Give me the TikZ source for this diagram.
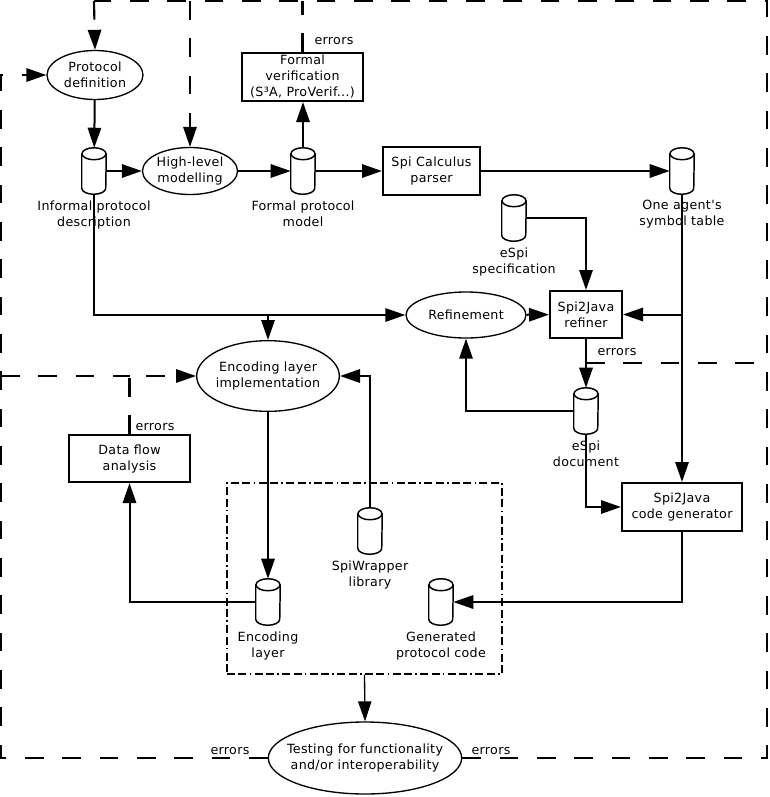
\documentclass[tikz,border=0pt]{standalone}
\usepackage{fontspec}
\setmainfont{DejaVu Sans}[LetterSpace=2.5, Ligatures=TeXOff]
\usetikzlibrary{shapes.geometric,arrows.meta,calc}
\newcommand{\drawcyl}[1]{%
  \draw[line width=1.1pt, fill=white] ($(#1.north west)+(0,-4.5pt)$) -- ($(#1.south west)+(0,4.5pt)$)
     arc[start angle=180, end angle=360, x radius=9pt, y radius=4.5pt]
     -- ($(#1.north east)+(0,-4.5pt)$);
  \draw[line width=1.1pt, fill=white] ($(#1.north)+(0,-4.5pt)$) ellipse[x radius=9pt, y radius=4.5pt];
}
\begin{document}
\begin{tikzpicture}[x=0.75pt,y=-0.75pt,
  txt/.style={font=\fontsize{9.5}{12}\selectfont, align=center, inner sep=0pt},
  ell/.style={draw, ellipse, inner sep=0pt, line width=1pt, fill=white},
  box/.style={draw, rectangle, inner sep=0pt, line width=1.5pt, txt, fill=white},
  cyl/.style={rectangle, minimum width=18pt, minimum height=34.5pt, inner sep=0pt},
  clab/.style={label={[txt,label distance=4.5pt]below:{#1}}},
  elab/.style={label={[txt]center:{#1}}},
  conn/.style={line width=1.5pt, -{Triangle[length=15pt,width=10pt]}},
  dsh/.style={line width=1.6pt, dash pattern=on 14pt off 14pt},
  dsharr/.style={dsh, -{Triangle[length=15pt,width=10pt]}},
  dashdot/.style={line width=1.1pt, dash pattern=on 6pt off 2.5pt on 6pt off 2.5pt on 1.2pt off 2.5pt}
]
\useasboundingbox (0,0) rectangle (770,797);

% nodes
\node[ell, minimum width=72pt, minimum height=36.75pt, elab={Protocol\\definition}] (pd) at (95,75) {};
\node[ell, minimum width=71.25pt, minimum height=35.25pt, elab={High-level\\modelling}] (hlm) at (190,171) {};
\node[ell, minimum width=90pt, minimum height=34.5pt, elab={Refinement}] (ref) at (466,315) {};
\node[ell, minimum width=107pt, minimum height=53pt, elab={Encoding layer\\implementation}] (eli) at (268,376) {};
\node[ell, minimum width=145pt, minimum height=54pt, elab={Testing for functionality\\and/or interoperability}] (test) at (365,758) {};

\node[box, minimum width=90.75pt, minimum height=36pt] (fv) at (302.5,77) {Formal\\verification\\(S³A, ProVerif...)};
\node[box, minimum width=72.75pt, minimum height=36pt] (parser) at (431.5,171) {Spi Calculus\\parser};
\node[box, minimum width=54pt, minimum height=35.25pt] (refiner) at (586,314.5) {Spi2Java\\refiner};
\node[box, minimum width=90.75pt, minimum height=35.25pt] (dfa) at (129.5,458.5) {Data flow\\analysis};
\node[box, minimum width=90pt, minimum height=36pt] (gen) at (682,507) {Spi2Java\\code generator};

\node[draw, dashdot, minimum width=206.25pt, minimum height=143.25pt, inner sep=0pt] (lib) at (364.5,578.5) {};

\node[cyl, clab={Informal protocol\\description}] (inf) at (94,171) {};
\node[cyl, clab={Formal protocol\\model}] (fpm) at (303,171) {};
\node[cyl, clab={One agent's\\symbol table}] (sym) at (682,171) {};
\node[cyl, clab={eSpi\\specification}] (espec) at (514,218) {};
\node[cyl, clab={eSpi\\document}] (edoc) at (586,411) {};
\node[cyl, clab={SpiWrapper\\library}] (swl) at (370,531) {};
\node[cyl, clab={Encoding\\layer}] (enc) at (268,602) {};
\node[cyl, clab={Generated\\protocol code}] (gpc) at (441,602) {};
\drawcyl{inf}\drawcyl{fpm}\drawcyl{sym}\drawcyl{espec}
\drawcyl{edoc}\drawcyl{swl}\drawcyl{enc}\drawcyl{gpc}

% errors labels
\node[txt] (e1) at (334,41) {errors};
\node[txt] (e2) at (617,352) {errors};
\node[txt] (e3) at (155,427) {errors};
\node[txt] (e4) at (230,751) {errors};
\node[txt] (e5) at (491,751) {errors};

% coordinates
\coordinate (tl) at (94,1);
\coordinate (tm) at (190,1);
\coordinate (tr) at (767,1);
\coordinate (br) at (767,758);
\coordinate (bl) at (1,758);
\coordinate (lm) at (1,75);
\coordinate (ll) at (1,376);
\coordinate (re) at (586,363);
\coordinate (j1) at (94,315);
\coordinate (j2) at (268,315);

% solid connectors
\draw[conn] (pd) -- (inf);
\draw[conn] (inf) -- (hlm);
\draw[conn] (hlm) -- (fpm);
\draw[conn] (fpm.north) -- (fpm.north |- fv.south);
\draw[conn] (fpm) -- (parser);
\draw[conn] (parser) -- (sym);
\draw[conn] (inf.south) -- (j1) -- (ref.west);
\draw[conn] (j2) -- (eli.north);
\draw[conn] (ref) -- (refiner);
\draw[conn] (espec.east) -- (espec.east -| refiner.north) -- (refiner.north);
\draw[conn] (sym.south) -- (gen.north);
\draw[conn] (sym.south |- refiner.east) -- (refiner.east);
\draw[conn] (refiner.south) -- (edoc.north);
\draw[conn] (edoc.west) -- (edoc.west -| ref.south) -- (ref.south);
\draw[conn] (edoc.south) -- (edoc.south |- gen.west) -- (gen.west);
\draw[conn] (gen.south) -- (gen.south |- gpc.east) -- (gpc.east);
\draw[conn] (eli.south) -- (enc.north);
\draw[conn] (swl.north) -- (swl.north |- eli.east) -- (eli.east);
\draw[conn] (enc.west) -- (enc.west -| dfa.south) -- (dfa.south);
\draw[line width=1pt, -{Triangle[length=15pt,width=10pt]}] (lib.south) -- (test.north);

% dashed feedback
\draw[dsh] (test.east) -- (br) -- (tr) -- (tl);
\draw[dsharr] (tl) -- (pd.north);
\draw[dsharr] (tm) -- (hlm.north);
\draw[dsh] (fv.north) -- (fv.north |- tl);
\draw[dsh] (re) -- (re -| br);
\draw[dsharr] (test.west) -- (bl) -- (lm) -- (pd.west);
\draw[dsh] (ll) -- (ll -| dfa.north);
\draw[dsharr] (dfa.north) -- (dfa.north |- eli.west) -- (eli.west);
\end{tikzpicture}
\end{document}
